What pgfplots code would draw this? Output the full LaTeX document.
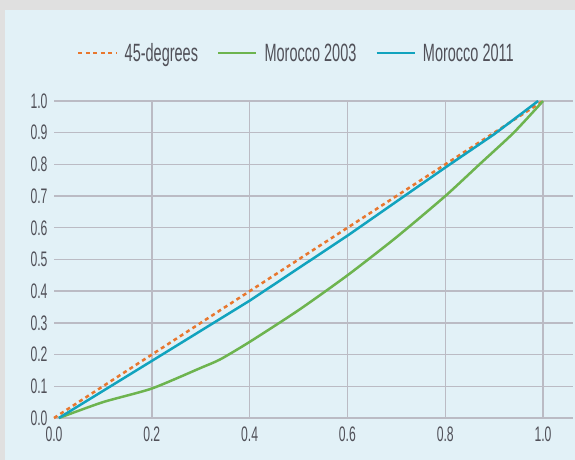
\documentclass[border=0pt]{standalone}
\usepackage{fontspec}
\setmainfont{Liberation Sans}[FakeStretch=0.58]
\usepackage{pgfplots}
\pgfplotsset{compat=1.18}

\definecolor{bgout}{HTML}{E0E0E0}
\definecolor{panel}{HTML}{E2F1F7}
\definecolor{gridc}{HTML}{BBBBC4}
\definecolor{orng}{HTML}{E8772E}
\definecolor{grn}{HTML}{6DB44F}
\definecolor{blu}{HTML}{11A3BE}
\definecolor{txt}{HTML}{505058}

\begin{document}
\begin{tikzpicture}
\fill[bgout] (-54bp,-42bp) rectangle (521bp,418bp);
\fill[panel] (-49bp,-42bp) rectangle (521bp,408bp);
\begin{axis}[
  at={(0,0)}, anchor=south west,
  scale only axis, width=519bp, height=317bp,
  xmin=0, xmax=1.0613, ymin=0, ymax=1.0,
  axis line style={draw=none},
  major tick length=0pt,
  xtick={0.2,0.4,0.6,0.8,1.0},
  extra x ticks={0}, extra x tick style={grid=none},
  ytick={0,0.1,...,1.0},
  grid=major,
  major grid style={gridc, line width=1.4bp},
  /pgf/number format/assume math mode=true,
  /pgf/number format/fixed, /pgf/number format/fixed zerofill,
  /pgf/number format/precision=1,
  tick label style={font=\fontsize{21bp}{25bp}\selectfont, text=txt},
  xticklabel style={yshift=-5bp},
  yticklabel style={xshift=-3bp},
  legend style={at={(0.472,1.151)}, anchor=center, draw=none, fill=none,
    font=\fontsize{25bp}{29bp}\selectfont, text=txt,
    nodes={inner xsep=7bp},
    /tikz/every even column/.append style={column sep=12bp}},
  legend columns=3,
  legend cell align=left,
  legend image code/.code={\draw[#1] (0bp,0bp) -- (38bp,0bp);},
  clip=false,
]
\addplot[orng, line width=2.5bp, dash pattern=on 4bp off 3.5bp] coordinates {
  (0,0) (1.0,1.0)
};
\addlegendentry{45-degrees}
\addplot[grn, line width=2.5bp, smooth, tension=0.4] coordinates {
  (0.01,0) (0.1,0.05) (0.2,0.093) (0.3,0.158) (0.34,0.185) (0.4,0.24)
  (0.5,0.34) (0.6,0.45) (0.7,0.57) (0.8,0.70) (0.87,0.80) (0.94,0.90) (1.0,1.0)
};
\addlegendentry{Morocco 2003}
\addplot[blu, line width=2.5bp] coordinates {
  (0.01,0) (0.2,0.18) (0.4,0.37) (0.6,0.575) (0.8,0.79) (0.9,0.895) (0.99,1.0)
};
\addlegendentry{Morocco 2011}
\end{axis}
\pgfresetboundingbox
\path (-54bp,-42bp) rectangle (521bp,418bp);
\end{tikzpicture}
\end{document}
